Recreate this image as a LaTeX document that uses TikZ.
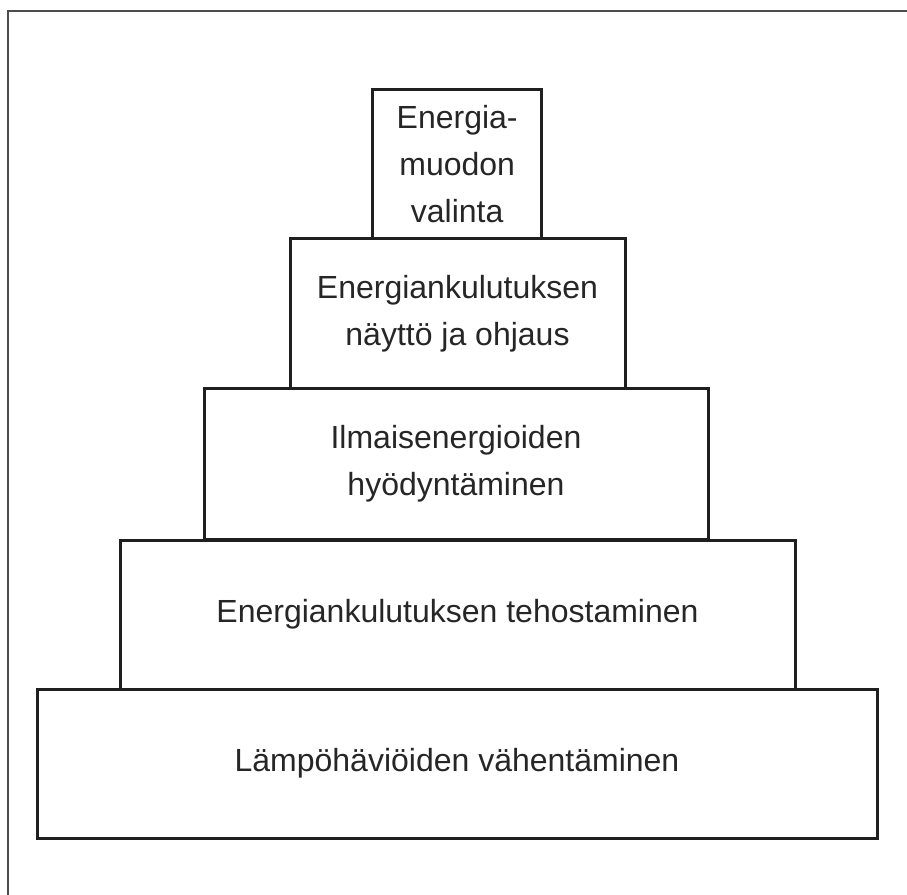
\documentclass[tikz,border=0pt]{standalone}
\usepackage{fontspec}
\setmainfont{Liberation Sans}
\begin{document}
\begin{tikzpicture}[x=0.5pt,y=-0.5pt,
  tier/.style={draw=black!88, line width=1.5pt, inner sep=0pt, fill=white,
    align=center, font=\fontsize{16}{23.5}\selectfont, text=black!85,
    line join=miter},
  frameline/.style={draw=black!70, line width=1.3pt}]
  \useasboundingbox (0,0) rectangle (907,895);
  \fill[white] (0,0) rectangle (907,895);
  % outer frame (top and left edges)
  \draw[frameline] (8,895) -- (8,11) -- (907,11);
  % pyramid tiers, bottom to top (sizes in pt, half of the drawing units)
  \node[tier, minimum width=420pt, minimum height=74.5pt] (t5) at (457,763.5)
    {Lämpöhäviöiden vähentäminen};
  \node[tier, minimum width=337.5pt, minimum height=74.5pt] (t4) at (457.5,614.5)
    {Energiankulutuksen tehostaminen};
  \node[tier, minimum width=252pt, minimum height=75.5pt] (t3) at (456,464)
    {Ilmaisenergioiden\\hyödyntäminen};
  \node[tier, minimum width=167.5pt, minimum height=75pt] (t2) at (457.5,313.5)
    {Energiankulutuksen\\näyttö ja ohjaus};
  \node[tier, minimum width=84.5pt, minimum height=74.5pt] (t1) at (457.2,164)
    {Energia-\\muodon\\valinta};
\end{tikzpicture}
\end{document}
